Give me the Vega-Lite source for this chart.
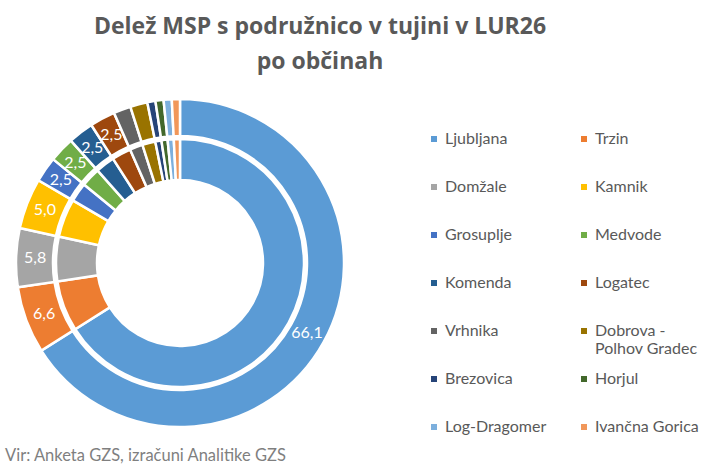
{
  "$schema": "https://vega.github.io/schema/vega-lite/v6.json",
  "background": "white",
  "padding": {"left": 5, "top": 16, "right": 0, "bottom": 0},
  "config": {
    "view": {"stroke": null},
    "font": "Lato",
    "locale": {"number": {"decimal": ",", "thousands": ".", "grouping": [3], "currency": ["", " €"]}},
    "concat": {"spacing": 0}
  },
  "title": {
    "text": ["Delež MSP s podružnico v tujini v LUR26", "po občinah"],
    "fontSize": 23,
    "fontWeight": "bold",
    "font": "Open Sans",
    "color": "#595959",
    "lineHeight": 35,
    "anchor": "middle",
    "offset": 14,
    "dx": -32
  },
  "vconcat": [
    {
      "width": 350,
      "height": 350,
      "title": {
        "text": "Vir: Anketa GZS, izračuni Analitike GZS",
        "orient": "bottom",
        "anchor": "start",
        "fontSize": 16.5,
        "fontWeight": "normal",
        "font": "Lato",
        "color": "#7f7f7f",
        "offset": 10
      },
      "data": {
        "values": [
          {"obcina": "Ljubljana", "delez": 66.1, "rang": 1},
          {"obcina": "Trzin", "delez": 6.6, "rang": 2},
          {"obcina": "Domžale", "delez": 5.8, "rang": 3},
          {"obcina": "Kamnik", "delez": 5.0, "rang": 4},
          {"obcina": "Grosuplje", "delez": 2.5, "rang": 5},
          {"obcina": "Medvode", "delez": 2.5, "rang": 6},
          {"obcina": "Komenda", "delez": 2.5, "rang": 7},
          {"obcina": "Logatec", "delez": 2.5, "rang": 8},
          {"obcina": "Vrhnika", "delez": 1.7, "rang": 9},
          {"obcina": "Dobrova - Polhov Gradec", "delez": 1.7, "rang": 10},
          {"obcina": "Brezovica", "delez": 0.8, "rang": 11},
          {"obcina": "Horjul", "delez": 0.8, "rang": 12},
          {"obcina": "Log-Dragomer", "delez": 0.8, "rang": 13},
          {"obcina": "Ivančna Gorica", "delez": 0.8, "rang": 14}
        ]
      },
      "encoding": {
        "theta": {"field": "delez", "type": "quantitative", "stack": true},
        "order": {"field": "rang", "type": "quantitative"}
      },
      "layer": [
        {
          "mark": {"type": "arc", "radius": 124, "radius2": 83, "stroke": "white", "strokeWidth": 2.5},
          "encoding": {
            "color": {
              "field": "obcina",
              "type": "nominal",
              "sort": null,
              "scale": {
                "domain": ["Ljubljana", "Domžale", "Grosuplje", "Komenda", "Vrhnika", "Brezovica", "Log-Dragomer", "Trzin", "Kamnik", "Medvode", "Logatec", "Dobrova - Polhov Gradec", "Horjul", "Ivančna Gorica"],
                "range": ["#5B9BD5", "#A5A5A5", "#4472C4", "#255E91", "#636363", "#264478", "#7CAFDD", "#ED7D31", "#FFC000", "#70AD47", "#9E480E", "#997300", "#43682B", "#F1975A"]
              },
              "legend": {
                "orient": "none",
                "legendX": 421,
                "legendY": 43,
                "columns": 2,
                "title": null,
                "symbolType": "square",
                "symbolSize": 36,
                "symbolStrokeWidth": 0,
                "labelFontSize": 16,
                "labelFont": "Lato",
                "labelColor": "#595959",
                "labelOffset": 3,
                "labelLimit": 250,
                "columnPadding": 29,
                "rowPadding": 14,
                "labelExpr": "datum.label == 'Dobrova - Polhov Gradec' ? ['Dobrova -', 'Polhov Gradec'] : [datum.label, '']",
                "encode": {"labels": {"update": {"dy": {"value": 11}, "lineHeight": {"value": 22}}}}
              }
            }
          }
        },
        {
          "mark": {"type": "arc", "radius": 164, "radius2": 127, "stroke": "white", "strokeWidth": 2.5},
          "encoding": {
            "color": {"field": "obcina", "type": "nominal", "sort": null}
          }
        },
        {
          "mark": {"type": "text", "radius": 145, "fontSize": 16, "color": "white", "font": "Lato"},
          "encoding": {
            "text": {
              "condition": {"test": "datum.delez >= 2.5", "field": "delez", "type": "quantitative", "format": ".1f"},
              "value": ""
            }
          }
        }
      ]
    }
  ]
}
